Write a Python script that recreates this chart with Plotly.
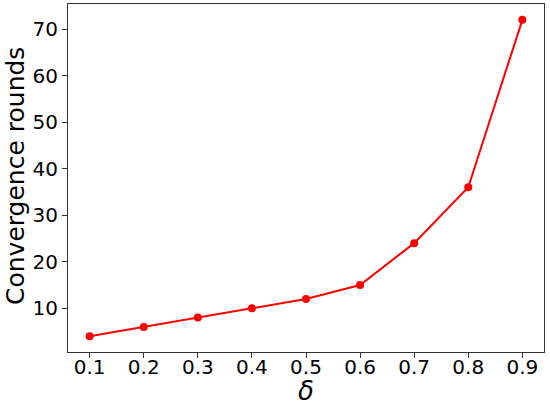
import plotly.graph_objects as go

delta = [0.1, 0.2, 0.3, 0.4, 0.5, 0.6, 0.7, 0.8, 0.9]
rounds = [4, 6, 8, 10, 12, 15, 24, 36, 72]
x_ticks = [0.1, 0.2, 0.3, 0.4, 0.5, 0.6, 0.7, 0.8, 0.9]
x_tick_labels = ["0.1", "0.2", "0.3", "0.4", "0.5", "0.6", "0.7", "0.8", "0.9"]
y_ticks = [10, 20, 30, 40, 50, 60, 70]

fig = go.Figure()
fig.add_trace(go.Scatter(
    x=delta, y=rounds, mode="lines+markers",
    line=dict(color="#ff0000", width=2),
    marker=dict(color="#ff0000", size=8),
    showlegend=False,
))

font = "DejaVu Sans"
fig.update_layout(
    width=550, height=415,
    margin=dict(l=68, r=6, t=4, b=63, autoexpand=False),
    plot_bgcolor="white", paper_bgcolor="white",
    font=dict(family=font, color="black", size=20),
)
fig.update_xaxes(
    range=[0.06, 0.94], tickvals=x_ticks, ticktext=x_tick_labels,
    showgrid=False, zeroline=False, automargin=False,
    showline=True, mirror=True, linecolor="#333333", linewidth=1,
    ticks="outside", ticklen=5, tickcolor="#333333",
    tickfont=dict(size=20, family=font), ticklabelstandoff=-8,
)
fig.update_yaxes(
    range=[0.6, 75.4], tickvals=y_ticks,
    showgrid=False, zeroline=False, automargin=False,
    showline=True, mirror=True, linecolor="#333333", linewidth=1,
    ticks="outside", ticklen=5, tickcolor="#333333",
    tickfont=dict(size=20, family=font),
)
fig.add_annotation(
    text="Convergence rounds", textangle=-90, showarrow=False,
    xref="paper", yref="paper", x=-68/476 + 16/476, y=1 - (176 - 4) / 348,
    xanchor="center", yanchor="middle",
    font=dict(size=25, family=font, color="black"),
)
fig.add_annotation(
    text="<i>δ</i>", showarrow=False,
    xref="paper", yref="paper", x=0.5, y=-(391 - 352) / 348,
    xanchor="center", yanchor="middle",
    font=dict(size=26, family=font, color="black"),
)

fig.write_html(
    "out.html",
    config={"displayModeBar": False},
    post_script="document.body.style.margin='0';document.body.style.overflow='hidden';",
)
